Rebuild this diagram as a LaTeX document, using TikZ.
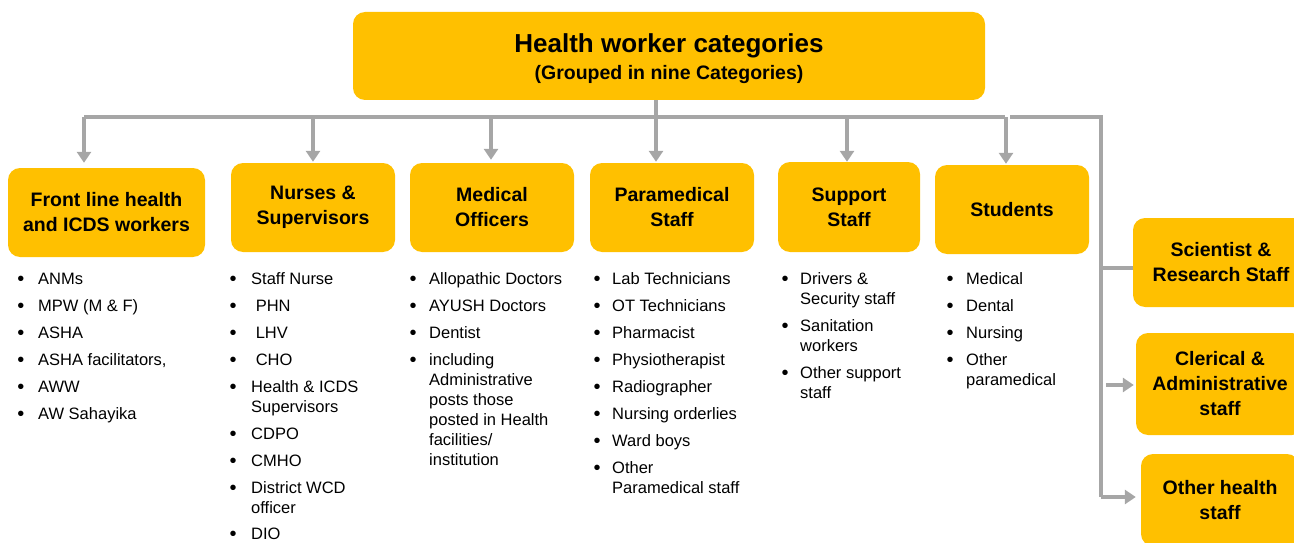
\documentclass[tikz,border=0pt]{standalone}
\usepackage{fontspec}
\setmainfont{Liberation Sans}
\usetikzlibrary{arrows.meta}
\definecolor{boxyellow}{HTML}{FFC000}
\definecolor{lineGrey}{HTML}{A6A6A6}
\newcommand\ml[1]{\begin{tabular}[t]{@{}l@{}}#1\end{tabular}}
\tikzset{
  catbox/.style={fill=boxyellow, draw=none, rounded corners=12pt, align=center,
    inner sep=0pt, font=\bfseries\fontsize{19.5}{25}\selectfont},
  conn/.style={draw=lineGrey, line width=3.4pt},
  arr/.style={conn, -{Triangle[width=14pt,length=11pt]}},
  itemtext/.style={anchor=base west, inner sep=0pt, font=\fontsize{16.5}{20}\selectfont},
  bul/.style={anchor=base, inner sep=0pt, yshift=-1pt, font=\fontsize{20}{20}\selectfont},
}
\begin{document}
\begin{tikzpicture}[x=1pt,y=-1pt]
\useasboundingbox (0,0) rectangle (1294,543);
\clip (0,0) rectangle (1294,543);

% top box
\node[catbox, minimum width=632pt, minimum height=88pt] (top) at (669,56) {};
\node[align=center, inner sep=0pt, font=\bfseries\fontsize{19.5}{25}\selectfont] (title) at (669,59)
  {\fontsize{26}{30}\selectfont Health worker categories\\[2pt]
   \fontsize{19.5}{25}\selectfont (Grouped in nine Categories)};

% category boxes
\node[catbox, minimum width=197pt, minimum height=89pt] (front) at (106.5,212.5) {Front line health\\and ICDS workers};
\node[catbox, minimum width=164pt, minimum height=89pt] (nurses) at (313,207.5) {Nurses \&\\Supervisors};
\node[catbox, minimum width=164pt, minimum height=89pt] (medical) at (492,207.5) {Medical\\Officers};
\node[catbox, minimum width=164pt, minimum height=89pt] (para) at (672,207.5) {Paramedical\\Staff};
\node[catbox, minimum width=142pt, minimum height=90pt] (support) at (849,207) {Support\\Staff};
\node[catbox, minimum width=154pt, minimum height=89pt] (students) at (1012,209.5) {Students};
\node[catbox, minimum width=176pt, minimum height=89pt] (sci) at (1221,262.5) {Scientist \&\\Research Staff};
\node[catbox, minimum width=168pt, minimum height=102pt] (cler) at (1220,384) {Clerical \&\\Administrative\\staff};
\node[catbox, minimum width=158pt, minimum height=92pt] (other) at (1220,500) {Other health\\staff};

% connectors
\coordinate (busL) at (84,117);
\coordinate (busR) at (1005,117);
\coordinate (brA) at (1010,117);
\coordinate (brB) at (1101,117);
\coordinate (brC) at (1101,497);
\coordinate (bN) at (313,117);
\coordinate (bM) at (491,117);
\coordinate (bP) at (656,117);
\coordinate (bS) at (847,117);
\coordinate (bT) at (1006,117);
\coordinate (sciL) at (1101,268);
\coordinate (clerL) at (1106,385);
\draw[conn] (bP |- top.south) -- (bP);
\draw[conn] (busL) -- (busR);
\draw[arr, shorten >=5pt] (busL) -- (busL |- front.north);
\draw[arr, shorten >=1pt] (bN) -- (bN |- nurses.north);
\draw[arr, shorten >=3pt] (bM) -- (bM |- medical.north);
\draw[arr, shorten >=1pt] (bP) -- (bP |- para.north);
\draw[arr] (bS) -- (bS |- support.north);
\draw[arr, shorten >=1pt] (bT) -- (bT |- students.north);
\draw[conn] (brA) -- (brB) -- (brC);
\draw[arr, shorten >=5pt] (brC) -- (other.west |- brC);
\draw[conn] (sciL) -- (sci.west |- sciL);
\draw[arr, shorten >=2pt] (clerL) -- (cler.west |- clerL);

% lists
\foreach \t/\y [count=\i] in {ANMs/284, MPW (M \& F)/311, ASHA/338, {ASHA facilitators,}/365, AWW/392, AW Sahayika/419}{
  \node[bul] (b1-\i) at (21,\y) {•};
  \node[itemtext] (t1-\i) at (38,\y) {\t};
}
\foreach \t/\y [count=\i] in {Staff Nurse/284, {\ PHN}/311, {\ LHV}/338, {\ CHO}/365, {\ml{Health \& ICDS\\Supervisors}}/392, CDPO/439, CMHO/466, {\ml{District WCD\\officer}}/493, DIO/539.5}{
  \node[bul] (b2-\i) at (233,\y) {•};
  \node[itemtext] (t2-\i) at (251,\y) {\t};
}
\foreach \t/\y [count=\i] in {Allopathic Doctors/284, AYUSH Doctors/311, Dentist/338, {\ml{including\\Administrative\\posts those\\posted in Health\\facilities/\\institution}}/365}{
  \node[bul] (b3-\i) at (413,\y) {•};
  \node[itemtext] (t3-\i) at (429,\y) {\t};
}
\foreach \t/\y [count=\i] in {Lab Technicians/284, OT Technicians/311, Pharmacist/338, Physiotherapist/365, Radiographer/392, Nursing orderlies/419, Ward boys/446, {\ml{Other\\Paramedical staff}}/473}{
  \node[bul] (b4-\i) at (597,\y) {•};
  \node[itemtext] (t4-\i) at (612,\y) {\t};
}
\foreach \t/\y [count=\i] in {{\ml{Drivers \&\\Security staff}}/284, {\ml{Sanitation\\workers}}/331, {\ml{Other support\\staff}}/378}{
  \node[bul] (b5-\i) at (785,\y) {•};
  \node[itemtext] (t5-\i) at (800,\y) {\t};
}
\foreach \t/\y [count=\i] in {Medical/284, Dental/311, Nursing/338, {\ml{Other\\paramedical}}/365}{
  \node[bul] (b6-\i) at (950,\y) {•};
  \node[itemtext] (t6-\i) at (966,\y) {\t};
}
\end{tikzpicture}
\end{document}
